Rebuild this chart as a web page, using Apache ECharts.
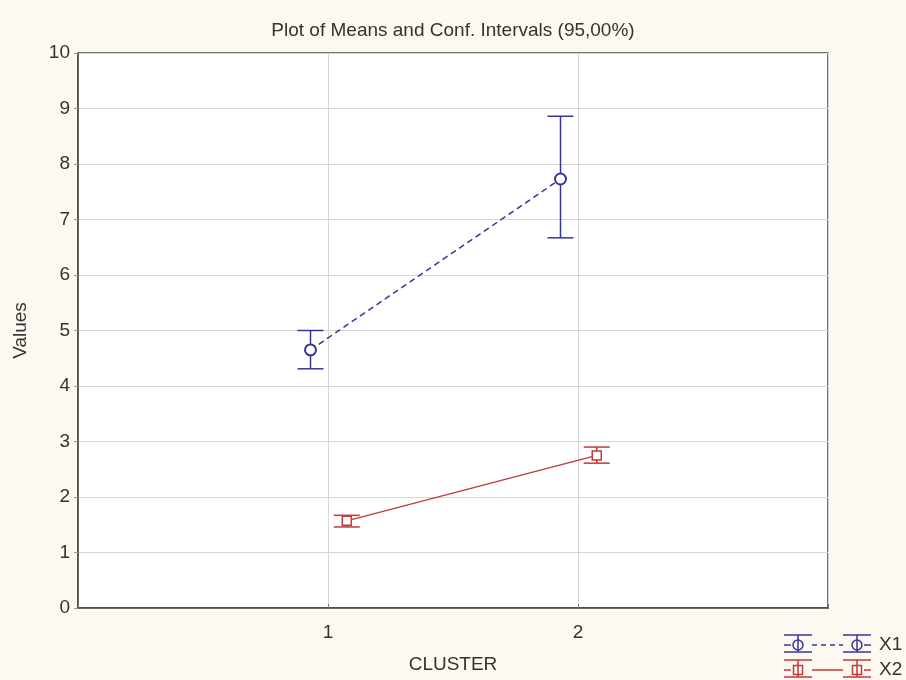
<!DOCTYPE html>
<html>
<head>
<meta charset="utf-8">
<script src="https://cdn.jsdelivr.net/npm/echarts@6/dist/echarts.min.js"></script>
<style>html,body{margin:0;padding:0;background:#fdf9f0;}#c{width:906px;height:680px;}</style>
</head>
<body>
<div id="c"></div>
<script>
var categories = [1, 2];
var x1Mean = [4.65, 7.73];
var x1Low = [4.31, 6.67];
var x1High = [5.00, 8.86];
var x2Mean = [1.57, 2.75];
var x2Low = [1.46, 2.61];
var x2High = [1.67, 2.90];
var yTicks = [0, 1, 2, 3, 4, 5, 6, 7, 8, 9, 10];

var BLUE = '#36369a';
var RED = '#c23a3a';
var OFF1 = -0.07, OFF2 = 0.075;
var FONT = '"Liberation Sans", Arial, sans-serif';

function pts(mean, off) { return categories.map(function (c, i) { return [c + off, mean[i]]; }); }
function bars(lo, hi, off) { return categories.map(function (c, i) { return [c + off, lo[i], hi[i]]; }); }

function errRender(color) {
  return function (params, api) {
    var x = api.value(0);
    var p1 = api.coord([x, api.value(1)]);
    var p2 = api.coord([x, api.value(2)]);
    var hw = 13;
    var st = { stroke: color, lineWidth: 1.5 };
    return {
      type: 'group',
      children: [
        { type: 'line', shape: { x1: p1[0], y1: p1[1], x2: p2[0], y2: p2[1] }, style: st },
        { type: 'line', shape: { x1: p1[0] - hw, y1: p1[1], x2: p1[0] + hw, y2: p1[1] }, style: st },
        { type: 'line', shape: { x1: p2[0] - hw, y1: p2[1], x2: p2[0] + hw, y2: p2[1] }, style: st }
      ]
    };
  };
}

function legendRow(y, color, dashed, isCircle, label) {
  var st = { stroke: color, lineWidth: 1.5, fill: null };
  var els = [];
  [798, 857].forEach(function (cx) {
    els.push({ type: 'line', shape: { x1: cx - 14, y1: y - 10, x2: cx + 14, y2: y - 10 }, style: st });
    els.push({ type: 'line', shape: { x1: cx - 14, y1: y + 7, x2: cx + 14, y2: y + 7 }, style: st });
    els.push({ type: 'line', shape: { x1: cx, y1: y - 10, x2: cx, y2: y + 7 }, style: st });
    if (isCircle) els.push({ type: 'circle', shape: { cx: cx, cy: y, r: 5 }, style: { stroke: color, lineWidth: 1.5, fill: 'transparent' } });
    else els.push({ type: 'rect', shape: { x: cx - 4.5, y: y - 4.5, width: 9, height: 9 }, style: { stroke: color, lineWidth: 1.5, fill: 'transparent' } });
  });
  els.push({ type: 'line', shape: { x1: 812, y1: y, x2: 843, y2: y }, style: { stroke: color, lineWidth: 1.5, lineDash: dashed ? [5, 4] : null } });
  els.push({ type: 'line', shape: { x1: 784, y1: y, x2: 791, y2: y }, style: st });
  els.push({ type: 'line', shape: { x1: 864, y1: y, x2: 871, y2: y }, style: st });
  els.push({ type: 'text', left: 879, top: y - 10, style: { text: label, font: '19px ' + FONT, fill: '#333' } });
  return els;
}

var chart = echarts.init(document.getElementById('c'), null, { renderer: 'canvas' });
chart.setOption({
  backgroundColor: '#fdf9f0',
  animation: false,
  title: {
    text: 'Plot of Means and Conf. Intervals (95,00%)',
    left: 'center', top: 16,
    textStyle: { fontFamily: FONT, fontSize: 19, fontWeight: 'normal', color: '#333' }
  },
  grid: { left: 78, right: 78, top: 53, bottom: 72, show: true, backgroundColor: '#ffffff', borderColor: '#444', borderWidth: 1.5 },
  xAxis: {
    type: 'value', min: 0, max: 3, interval: 1,
    name: 'CLUSTER', nameLocation: 'middle', nameGap: 47,
    nameTextStyle: { fontFamily: FONT, fontSize: 19, color: '#333' },
    axisLine: { show: true, lineStyle: { color: '#444', width: 1.5 } },
    axisTick: { show: true, inside: true, length: 4, lineStyle: { color: '#777' } },
    axisLabel: {
      margin: 15, fontFamily: FONT, fontSize: 19, color: '#333',
      formatter: function (v) { return categories.indexOf(v) >= 0 ? String(v) : ''; }
    },
    splitLine: { show: true, lineStyle: { color: '#d6d6d6', width: 1 } }
  },
  yAxis: {
    type: 'value', min: 0, max: 10, interval: 1,
    name: 'Values', nameLocation: 'middle', nameGap: 48, nameRotate: 90,
    nameTextStyle: { fontFamily: FONT, fontSize: 19, color: '#333' },
    axisLine: { show: true, lineStyle: { color: '#444', width: 1.5 } },
    axisTick: { show: true, length: 4, lineStyle: { color: '#999' } },
    axisLabel: {
      margin: 8, fontFamily: FONT, fontSize: 19, color: '#333',
      formatter: function (v) { return yTicks.indexOf(v) >= 0 ? String(v) : ''; }
    },
    splitLine: { show: true, lineStyle: { color: '#d6d6d6', width: 1 } }
  },
  series: [
    { name: 'X1 err', type: 'custom', renderItem: errRender(BLUE), data: bars(x1Low, x1High, OFF1), encode: { x: 0, y: [1, 2] }, z: 3 },
    { name: 'X2 err', type: 'custom', renderItem: errRender(RED), data: bars(x2Low, x2High, OFF2), encode: { x: 0, y: [1, 2] }, z: 3 },
    {
      name: 'X1', type: 'line', data: pts(x1Mean, OFF1), symbol: 'emptyCircle', symbolSize: 11,
      lineStyle: { color: BLUE, width: 1.5, type: [6, 4] }, itemStyle: { color: BLUE, borderColor: BLUE, borderWidth: 1.5 }, z: 4
    },
    {
      name: 'X2', type: 'line', data: pts(x2Mean, OFF2), symbol: 'rect', symbolSize: 9,
      lineStyle: { color: RED, width: 1.5 }, itemStyle: { color: '#fff', borderColor: RED, borderWidth: 1.5 }, z: 4
    }
  ],
  graphic: [].concat(legendRow(645, BLUE, true, true, 'X1'), legendRow(670, RED, false, false, 'X2'))
});
</script>
</body>
</html>
